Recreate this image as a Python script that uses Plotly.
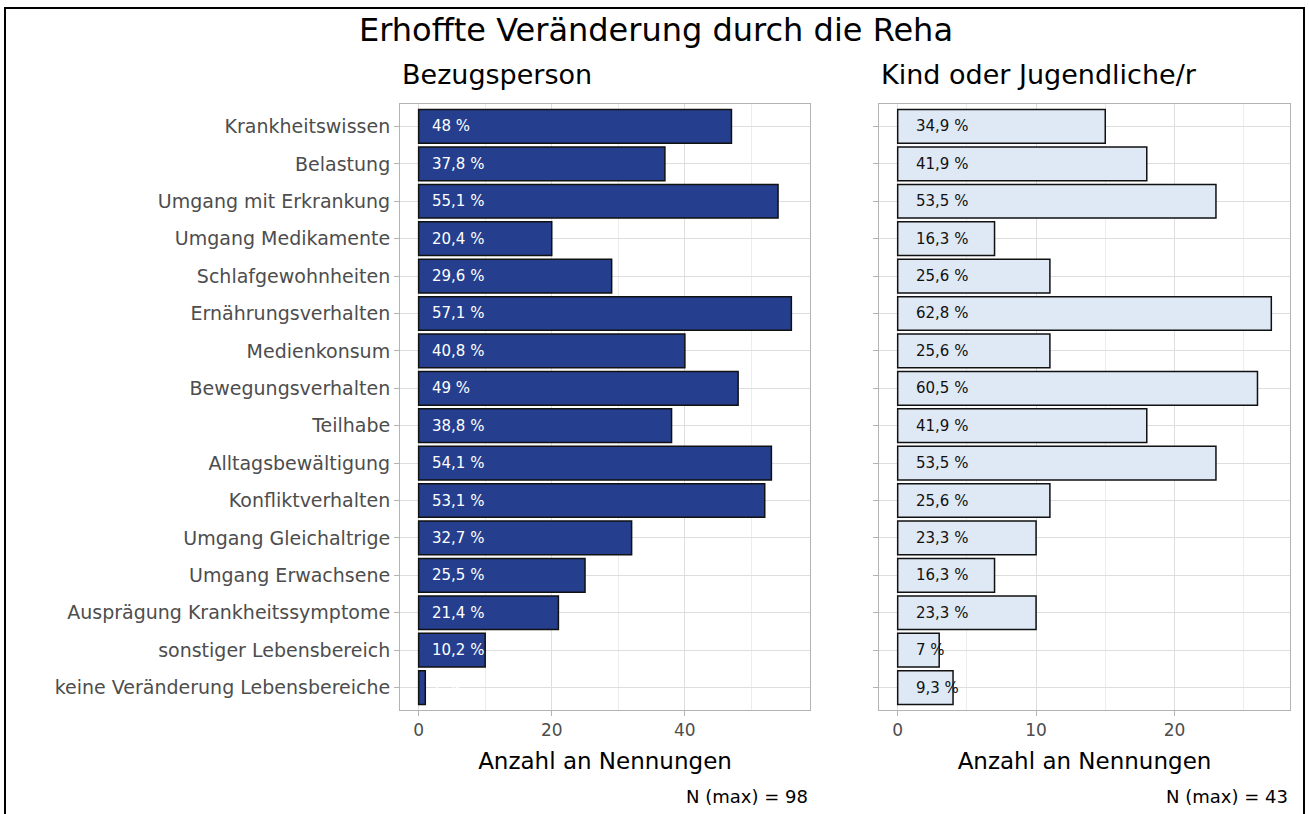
import plotly.graph_objects as go

categories = [
    "Krankheitswissen", "Belastung", "Umgang mit Erkrankung", "Umgang Medikamente",
    "Schlafgewohnheiten", "Ernährungsverhalten", "Medienkonsum", "Bewegungsverhalten",
    "Teilhabe", "Alltagsbewältigung", "Konfliktverhalten", "Umgang Gleichaltrige",
    "Umgang Erwachsene", "Ausprägung Krankheitssymptome", "sonstiger Lebensbereich",
    "keine Veränderung Lebensbereiche",
]
bezug_counts = [47, 37, 54, 20, 29, 56, 40, 48, 38, 53, 52, 32, 25, 21, 10, 1]
bezug_labels = ["48 %", "37,8 %", "55,1 %", "20,4 %", "29,6 %", "57,1 %", "40,8 %", "49 %",
                "38,8 %", "54,1 %", "53,1 %", "32,7 %", "25,5 %", "21,4 %", "10,2 %", "1 %"]
kind_counts = [15, 18, 23, 7, 11, 27, 11, 26, 18, 23, 11, 10, 7, 10, 3, 4]
kind_labels = ["34,9 %", "41,9 %", "53,5 %", "16,3 %", "25,6 %", "62,8 %", "25,6 %", "60,5 %",
               "41,9 %", "53,5 %", "25,6 %", "23,3 %", "16,3 %", "23,3 %", "7 %", "9,3 %"]
n_max = [98, 43]

W, H = 1309, 814
FONT = "DejaVu Sans, Liberation Sans, Arial, sans-serif"

fig = go.Figure()
fig.add_trace(go.Bar(
    x=bezug_counts, y=categories, orientation="h", width=0.9,
    marker=dict(color="#253F8E", line=dict(color="#111111", width=1.5)),
    xaxis="x", yaxis="y", showlegend=False, hoverinfo="skip"))
fig.add_trace(go.Bar(
    x=kind_counts, y=categories, orientation="h", width=0.9,
    marker=dict(color="#DEE9F5", line=dict(color="#111111", width=1.5)),
    xaxis="x2", yaxis="y2", showlegend=False, hoverinfo="skip"))

annotations = []
for c, t in zip(categories, bezug_labels):
    annotations.append(dict(x=1.7, y=c, xref="x", yref="y", text=t, showarrow=False,
                            xanchor="left", yanchor="middle",
                            font=dict(family=FONT, size=15, color="white")))
for c, t in zip(categories, kind_labels):
    annotations.append(dict(x=1.2, y=c, xref="x2", yref="y2", text=t, showarrow=False,
                            xanchor="left", yanchor="middle",
                            font=dict(family=FONT, size=15, color="#111111")))

x1d = [400 / W, 810 / W]
x2d = [879 / W, 1290 / W]
yd = [1 - 710 / H, 1 - 104 / H]

annotations += [
    dict(x=656 / W, y=1 - 30 / H, xref="paper", yref="paper", text="Erhoffte Veränderung durch die Reha",
         showarrow=False, xanchor="center", yanchor="middle", font=dict(family=FONT, size=32, color="black")),
    dict(x=x1d[0], y=1 - 74 / H, xref="paper", yref="paper", text="Bezugsperson",
         showarrow=False, xanchor="left", yanchor="middle", font=dict(family=FONT, size=27, color="black")),
    dict(x=x2d[0], y=1 - 74 / H, xref="paper", yref="paper", text="Kind oder Jugendliche/r",
         showarrow=False, xanchor="left", yanchor="middle", font=dict(family=FONT, size=27, color="black")),
    dict(x=x1d[1], y=1 - 796 / H, xref="paper", yref="paper", text=f"N (max) = {n_max[0]}",
         showarrow=False, xanchor="right", yanchor="middle", font=dict(family=FONT, size=18, color="black")),
    dict(x=x2d[1], y=1 - 796 / H, xref="paper", yref="paper", text=f"N (max) = {n_max[1]}",
         showarrow=False, xanchor="right", yanchor="middle", font=dict(family=FONT, size=18, color="black")),
]

grid = "#DEDEDE"
minor = "#EDEDED"
axis_common = dict(showline=True, mirror=True, linecolor="#B3B3B3", linewidth=1,
                   ticks="outside", ticklen=5, tickcolor="#B3B3B3",
                   tickfont=dict(family=FONT, size=17, color="#4D4D4D"),
                   showgrid=True, gridcolor=grid, gridwidth=1, zeroline=False)

fig.update_layout(
    width=W, height=H, margin=dict(l=0, r=0, t=0, b=0),
    paper_bgcolor="white", plot_bgcolor="white",
    xaxis=dict(domain=x1d, range=[-2.8, 58.8], tickvals=[0, 20, 40], anchor="y",
               minor=dict(tickvals=[10, 30, 50], showgrid=True, gridcolor=minor, ticks=""),
               title=dict(text="Anzahl an Nennungen", font=dict(family=FONT, size=23, color="black"), standoff=13),
               **axis_common),
    yaxis=dict(domain=yd, range=[15.6, -0.6], type="category", categoryorder="array",
               categoryarray=categories, anchor="x",
               **{**axis_common, "tickfont": dict(family=FONT, size=19, color="#4D4D4D")}),
    xaxis2=dict(domain=x2d, range=[-1.35, 28.35], tickvals=[0, 10, 20], anchor="y2",
                minor=dict(tickvals=[5, 15, 25], showgrid=True, gridcolor=minor, ticks=""),
                title=dict(text="Anzahl an Nennungen", font=dict(family=FONT, size=23, color="black"), standoff=13),
                **axis_common),
    yaxis2=dict(domain=yd, range=[15.6, -0.6], type="category", categoryorder="array",
                categoryarray=categories, anchor="x2", showticklabels=False, **axis_common),
    annotations=annotations,
    shapes=[dict(type="rect", xref="paper", yref="paper", x0=5 / W, x1=1304 / W, y0=-0.01, y1=1 - 8 / H,
                 line=dict(color="black", width=2), fillcolor="rgba(0,0,0,0)", layer="above")],
    bargap=0.1,
)

fig.write_html("out.html", config={"displayModeBar": False},
               post_script="document.body.style.margin='0';document.body.style.overflow='hidden';")
